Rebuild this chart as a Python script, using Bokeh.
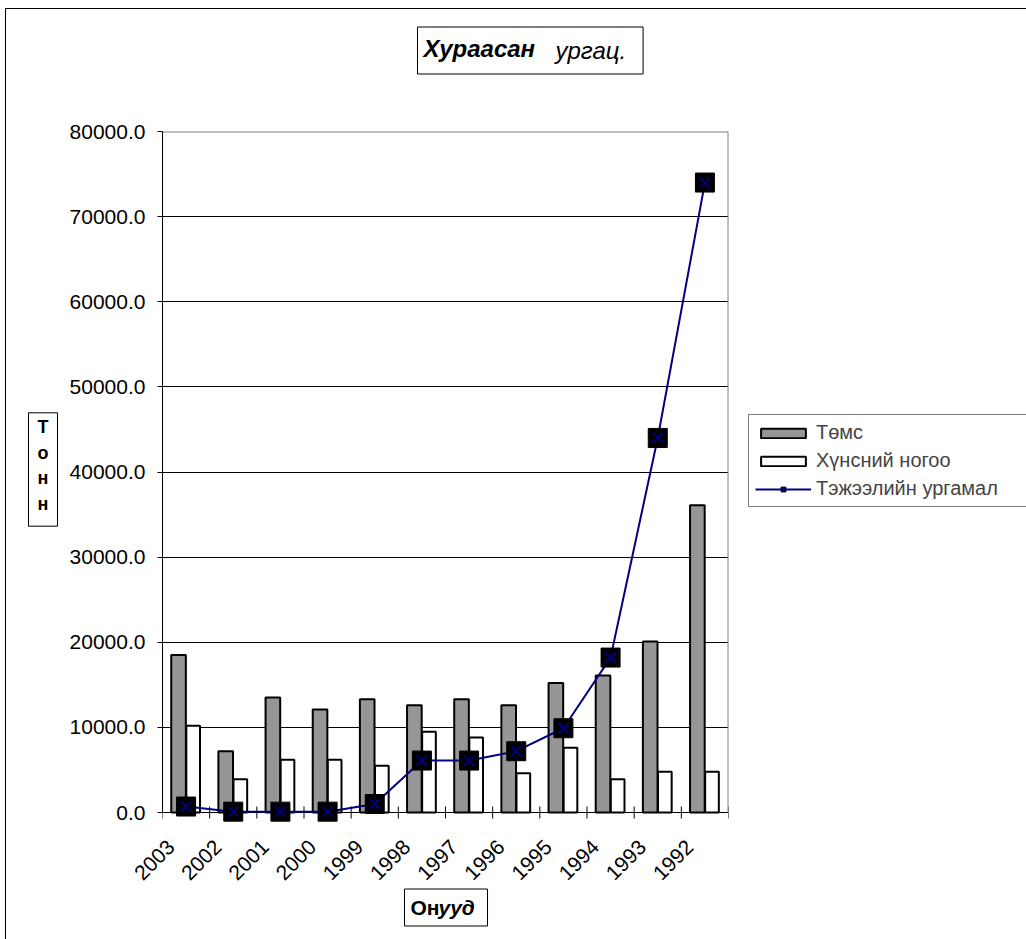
import numpy as np
from math import pi
from bokeh.plotting import figure
from bokeh.models import (FixedTicker, Legend, LegendItem, Label,
                          NumeralTickFormatter, ColumnDataSource, Range1d)
from bokeh.embed import file_html
from bokeh.resources import INLINE

years = ["2003", "2002", "2001", "2000", "1999", "1998", "1997", "1996", "1995", "1994", "1993", "1992"]
potato = [18500, 7200, 13500, 12100, 13300, 12600, 13300, 12600, 15200, 16100, 20100, 36100]
vegetables = [10200, 3900, 6200, 6200, 5500, 9500, 8800, 4600, 7600, 3900, 4800, 4800]
fodder = [700, 100, 100, 100, 1000, 6100, 6100, 7200, 9900, 18200, 44000, 74000]
y_ticks = [0, 10000, 20000, 30000, 40000, 50000, 60000, 70000, 80000]

series_names = ["Төмс", "Хүнсний ногоо", "Тэжээлийн ургамал"]
title_bold = "Хураасан"
title_rest = "ургац."
ylabel_text = "Т\nо\nн\nн"
xlabel_bold = "Он"
xlabel_rest = "ууд"

FONT = "Liberation Sans"
OX, OY = 6, 9          # canvas origin on the page (css margin + border)
W, H = 1020, 926

# frame extends a little below the zero line so markers near zero are not cut
PX_PER_UNIT = 681 / y_ticks[-1]
Y_PAD_PX = 12
y_start = -Y_PAD_PX / PX_PER_UNIT
TICK_HALF = 6 / PX_PER_UNIT
FL, FT, FW, FH = 162 - OX, 131 - OY, 566, 681 + Y_PAD_PX

centers = np.arange(len(years)) + 0.5
boundaries = list(range(len(years) + 1))
src = ColumnDataSource(dict(x=centers, potato=potato, veg=vegetables, fodder=fodder,
                            xp=centers - 0.16, xv=centers + 0.15))

p = figure(frame_width=FW, frame_height=FH, x_range=Range1d(0, len(years)),
           y_range=Range1d(y_start, y_ticks[-1]),
           output_backend="svg", toolbar_location=None,
           min_border_left=FL, min_border_right=W - FL - FW, min_border_top=FT,
           min_border_bottom=H - FT - FH)
p.styles = {"margin-left": "5px", "margin-top": "8px",
            "border-left": "1px solid black", "border-top": "1px solid black"}
p.background_fill_color = "white"
p.border_fill_color = "white"
p.outline_line_color = None

p.xgrid.grid_line_color = None
p.ygrid.grid_line_color = "black"
p.ygrid.grid_line_width = 1
p.ygrid.ticker = FixedTicker(ticks=y_ticks)

# category tick marks between categories, crossing the zero line
p.segment(x0=boundaries, y0=[-TICK_HALF] * len(boundaries), x1=boundaries,
          y1=[TICK_HALF] * len(boundaries), line_color="black", line_width=1)
# grey plot-area border on the right and top
p.segment(x0=[len(years), 0], y0=[0, y_ticks[-1]], x1=[len(years), len(years)],
          y1=[y_ticks[-1], y_ticks[-1]], line_color="#808080", line_width=2)

r_p = p.vbar(x="xp", top="potato", width=0.31, source=src, fill_color="#969696",
             line_color="black", line_width=2)
r_v = p.vbar(x="xv", top="veg", width=0.29, source=src, fill_color="white",
             line_color="black", line_width=2)
r_l = p.line(x="x", y="fodder", source=src, line_color="#000080", line_width=2)
r_s = p.scatter(x="x", y="fodder", source=src, marker="square", size=19,
                fill_color="black", line_color="black")
r_x = p.scatter(x="x", y="fodder", source=src, marker="x", size=14,
                line_color="#000080", line_width=2)

yax = p.yaxis[0]
yax.ticker = FixedTicker(ticks=y_ticks)
yax.bounds = (0, y_ticks[-1])
yax.formatter = NumeralTickFormatter(format="0.0")
yax.major_label_text_font = FONT
yax.major_label_text_font_size = "21px"
yax.major_label_text_color = "black"
yax.major_tick_in = 0
yax.major_tick_out = 5
yax.minor_tick_line_color = None
yax.axis_line_color = "black"
yax.major_tick_line_color = "black"
yax.major_label_standoff = 12

# category labels (anchored a little left of the category centre, like the original)
label_pos = centers - 0.32
xax = p.xaxis[0]
xax.ticker = FixedTicker(ticks=list(label_pos))
xax.major_label_overrides = {float(c): y for c, y in zip(label_pos, years)}
xax.major_label_orientation = pi / 4
xax.major_label_text_font = FONT
xax.major_label_text_font_size = "21px"
xax.major_label_text_color = "black"
xax.major_tick_line_color = None
xax.minor_tick_line_color = None
xax.axis_line_color = None
xax.major_label_standoff = 25 - Y_PAD_PX

legend = Legend(items=[LegendItem(label=series_names[0], renderers=[r_p]),
                       LegendItem(label=series_names[1], renderers=[r_v]),
                       LegendItem(label=series_names[2], renderers=[r_l, r_s, r_x])],
                location=(20, 305 + Y_PAD_PX))
legend.border_line_color = "black"
legend.border_line_width = 1
legend.background_fill_color = "white"
legend.background_fill_alpha = 1
legend.label_text_font = FONT
legend.label_text_font_size = "20px"
legend.glyph_width = 56
legend.glyph_height = 12
legend.label_standoff = 5
legend.label_width = 207
legend.padding = 6
legend.spacing = 5
legend.margin = 0
p.add_layout(legend, "right")

def label(x, y, text, size, style, panel, align="left", baseline="alphabetic",
          pad=None, line_height=1.2):
    kw = {}
    if pad is not None:
        kw = dict(border_line_color="black", border_line_width=1,
                  background_fill_color="white", padding=pad)
    p.add_layout(Label(x=x - OX, y=y - OY, x_units="canvas", y_units="canvas", text=text,
                       text_font=FONT, text_font_size=size, text_font_style=style,
                       text_align=align, text_baseline=baseline, text_color="black",
                       text_line_height=line_height, **kw), panel)

label(416, 49, title_bold, "24px", "bold italic", "above",
      pad=dict(left=6, right=108, top=8, bottom=12))
label(554, 49, title_rest, "24px", "italic", "above")
label(41.5, 468, ylabel_text, "18px", "bold", "left", align="center", baseline="middle",
      pad=dict(left=9, right=9, top=4, bottom=12), line_height=1.29)
label(403, 906, xlabel_bold, "21px", "bold", "below",
      pad=dict(left=6, right=48, top=7, bottom=7))
label(437, 906, xlabel_rest, "21px", "bold italic", "below")

open("out.html", "w").write(file_html(p, INLINE))
